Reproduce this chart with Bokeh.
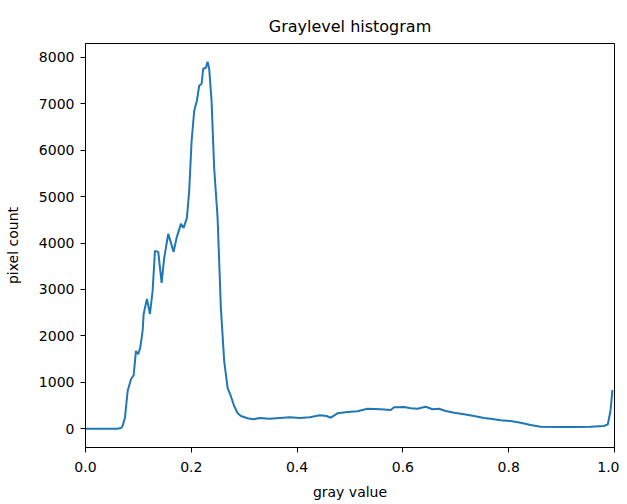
from bokeh.plotting import figure
from bokeh.models import Range1d, FixedTicker
from bokeh.embed import file_html
from bokeh.resources import INLINE

# gray value (bin position) and pixel count
gray_value = [0.0, 0.03, 0.06, 0.067, 0.070, 0.0746, 0.0797, 0.0859, 0.0910, 0.0954,
              0.0997, 0.1035, 0.108, 0.1099, 0.1161, 0.1218, 0.1269, 0.1313, 0.1375,
              0.1439, 0.1488, 0.1564, 0.1666, 0.1722, 0.1804, 0.1855, 0.1917, 0.1960,
              0.2006, 0.2055, 0.2106, 0.2149, 0.2195, 0.2225, 0.2276, 0.2308, 0.2338,
              0.2383, 0.2432, 0.2497, 0.2559, 0.2621, 0.2686, 0.2748, 0.281, 0.2874,
              0.2937, 0.3063, 0.3172, 0.3294, 0.3483, 0.3673, 0.3862, 0.4051, 0.424,
              0.4429, 0.4555, 0.4637, 0.4763, 0.4952, 0.5141, 0.5331, 0.5581, 0.577,
              0.5833, 0.6022, 0.6148, 0.6275, 0.6431, 0.6558, 0.6684, 0.681, 0.6968,
              0.7157, 0.7346, 0.7535, 0.766, 0.7847, 0.8036, 0.8225, 0.8414, 0.8603,
              0.8918, 0.9233, 0.9547, 0.9799, 0.9874, 0.9924, 0.9961]
pixel_count = [0, 0, 0, 15, 58, 237, 813, 1065, 1151, 1675,
               1604, 1747, 2107, 2473, 2797, 2473, 2969, 3832, 3810,
               3142, 3681, 4198, 3810, 4112, 4414, 4328, 4543, 5126,
               6204, 6851, 7066, 7390, 7433, 7756, 7778, 7907, 7756,
               7066, 5622, 4543, 2603, 1462, 878, 700, 489, 339,
               274, 224, 203, 231, 216, 231, 246, 231, 246,
               289, 274, 237, 332, 360, 375, 431, 418, 403,
               461, 468, 440, 431, 474, 418, 431, 382, 345,
               311, 274, 231, 215, 181, 166, 129, 80, 43,
               37, 37, 43, 58, 95, 382, 834]

x_ticks = [0.0, 0.2, 0.4, 0.6, 0.8, 1.0]
y_ticks = [0, 1000, 2000, 3000, 4000, 5000, 6000, 7000, 8000]

FONT = "DejaVu Sans"

p = figure(width=619, height=504, output_backend="svg", toolbar_location=None,
           x_range=Range1d(0, 1), y_range=Range1d(-405, 8300),
           min_border_left=85, min_border_right=5, min_border_top=43, min_border_bottom=57,
           title="Graylevel histogram")

p.line(gray_value, pixel_count, line_color="#1f77b4", line_width=2)

p.title.align = "center"
p.title.text_font = FONT
p.title.text_font_size = "16px"
p.title.text_font_style = "normal"
p.title.text_color = "#000000"
p.title.standoff = 16

p.grid.visible = False
p.outline_line_color = "#000000"
p.outline_line_width = 1
p.outline_line_alpha = 1.0
p.background_fill_color = "white"
p.border_fill_color = "white"

for ax in (p.xaxis[0], p.yaxis[0]):
    ax.major_label_text_font = FONT
    ax.major_label_text_font_size = "14px"
    ax.major_label_text_color = "#000000"
    ax.axis_label_text_font = FONT
    ax.axis_label_text_font_size = "14px"
    ax.axis_label_text_font_style = "normal"
    ax.axis_label_text_color = "#000000"
    ax.axis_line_color = "#000000"
    ax.major_tick_line_color = "#000000"
    ax.major_tick_out = 5
    ax.major_tick_in = 0
    ax.minor_tick_out = 0
    ax.minor_tick_in = 0

p.xaxis.ticker = FixedTicker(ticks=x_ticks)
p.yaxis.ticker = FixedTicker(ticks=y_ticks)
p.xaxis.major_label_overrides = {t: f"{t:.1f}" for t in x_ticks}
p.xaxis.axis_label = "gray value"
p.yaxis.axis_label = "pixel count"
p.xaxis.major_label_standoff = 9
p.yaxis.major_label_standoff = 6
p.xaxis.axis_label_standoff = 9
p.yaxis.axis_label_standoff = 15

open("out.html", "w").write(file_html(p, INLINE))
